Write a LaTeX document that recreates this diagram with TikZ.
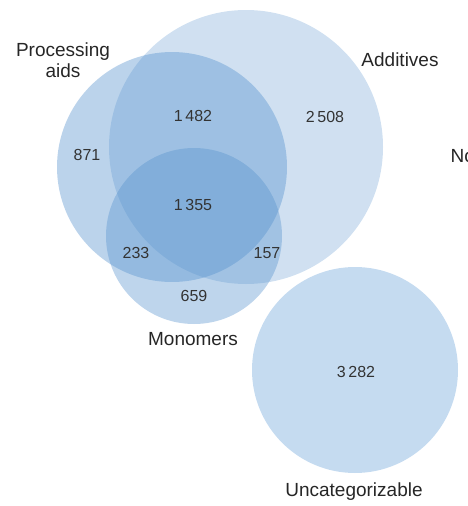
\documentclass[tikz,border=0pt]{standalone}
\usepackage{fontspec}
\setmainfont{Liberation Sans}
\definecolor{setblue}{RGB}{85, 145, 205}
\definecolor{uncatblue}{RGB}{150, 190, 228}
\usetikzlibrary{positioning}

\begin{document}
\begin{tikzpicture}[x=1pt, y=-1pt,
    vset/.style={circle, inner sep=0pt, fill=setblue},
    setname/.style={font=\fontsize{19}{23}\selectfont, align=center, text=black!85},
    count/.style={font=\fontsize{16}{18}\selectfont, text=black!80}]
  \useasboundingbox (0,0) rectangle (467,506);
  \clip (0,0) rectangle (467,506);

  % the four sets
  \node[vset, fill opacity=0.28, minimum size=274pt] (additives) at (246,147) {};
  \node[vset, fill opacity=0.40, minimum size=230pt] (procaids) at (172,167) {};
  \node[vset, fill opacity=0.38, minimum size=176pt] (monomers) at (194,236) {};
  \node[vset, fill=uncatblue, fill opacity=0.55, minimum size=206pt] (uncat) at (355,370) {};

  % set names
  \node[setname] (procaidsname) at (63,60) {Processing\\[-2pt]aids};
  \node[setname] (additivesname) at (400,60) {Additives};
  \node[setname, anchor=west] (nonename) at (447,156) {No};
  \node[setname] (monomersname) at (193,339) {Monomers};
  \node[setname] (uncatname) at (354,492) {Uncategorizable};

  % counts
  \node[count] (nPA) at (193,116) {1\,482};
  \node[count] (nA) at (325,117) {2\,508};
  \node[count] (nP) at (87,155) {871};
  \node[count] (nPAM) at (193,205) {1\,355};
  \node[count] (nPM) at (136,253) {233};
  \node[count] (nAM) at (267,253) {157};
  \node[count] (nM) at (194,296) {659};
  \node[count] (nU) at (356,372) {3\,282};
\end{tikzpicture}
\end{document}
